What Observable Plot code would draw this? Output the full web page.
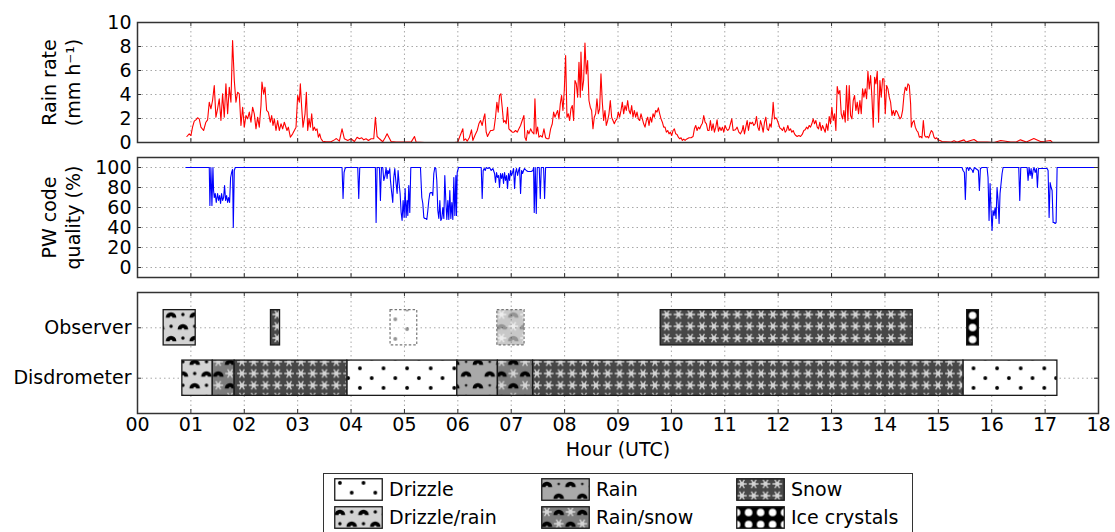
<!DOCTYPE html>
<html><head><meta charset="utf-8">
<script src="https://cdn.jsdelivr.net/npm/d3@7"></script>
<script src="https://cdn.jsdelivr.net/npm/@observablehq/plot@0.6"></script>
<style>
body{margin:0;background:#fff;font-family:"DejaVu Sans",sans-serif;}
#chart{position:relative;width:1115px;height:532px;overflow:hidden;background:#fff;}
#chart svg{display:block}
.legend{position:absolute;left:323px;top:473px;width:590px;height:70px;border:1.5px solid #333;box-sizing:border-box;background:#fff;}
.item{position:absolute;display:flex;align-items:center;font-size:19px;color:#000;line-height:1;}
.item svg{display:block;margin-right:6px}
</style></head><body>
<svg width="0" height="0" style="position:absolute">
<defs>
  <path id="arch" d="M-5.3,2A5.3,5.3 0 0 1 5.3,2L1.4,2A1.4,1.4 0 0 0 -1.4,2Z" fill="#000"/>
  <g id="flake" stroke="#d4d4d4" stroke-width="1.4" fill="#d4d4d4">
    <path d="M-4.8,0H4.8M-2.4,-4.2L2.4,4.2M-2.4,4.2L2.4,-4.2"/>
    <circle r="2.2" stroke="none"/>
  </g>
  <pattern id="p-drizzle" patternUnits="userSpaceOnUse" width="23.6" height="19.6">
    <rect width="23.6" height="19.6" fill="#fff"/>
    <circle cx="5.9" cy="4.9" r="1.9" fill="#000"/>
    <circle cx="17.7" cy="14.7" r="1.9" fill="#000"/>
  </pattern>
  <pattern id="p-drizzlerain" patternUnits="userSpaceOnUse" width="23.6" height="23.6">
    <rect width="23.6" height="23.6" fill="#d3d3d3"/>
    <use href="#arch" x="5.9" y="7"/>
    <use href="#arch" x="17.7" y="18.8"/>
    <circle cx="17.7" cy="6" r="1.7" fill="#000"/>
    <circle cx="5.9" cy="17.8" r="1.7" fill="#000"/>
  </pattern>
  <pattern id="p-rain" patternUnits="userSpaceOnUse" width="23.6" height="23.6">
    <rect width="23.6" height="23.6" fill="#a9a9a9"/>
    <use href="#arch" x="5.9" y="7"/>
    <use href="#arch" x="17.7" y="18.8"/>
    <circle cx="17.7" cy="6" r="1.4" fill="#222"/>
  </pattern>
  <pattern id="p-rainsnow" patternUnits="userSpaceOnUse" width="23.6" height="23.6">
    <rect width="23.6" height="23.6" fill="#7c7c7c"/>
    <use href="#flake" x="5.9" y="5.9"/>
    <use href="#flake" x="17.7" y="17.7"/>
    <use href="#arch" x="17.7" y="7"/>
    <use href="#arch" x="5.9" y="18.8"/>
  </pattern>
  <pattern id="p-snow" patternUnits="userSpaceOnUse" width="11.8" height="11.8">
    <rect width="11.8" height="11.8" fill="#474747"/>
    <use href="#flake" x="5.9" y="5.9"/>
  </pattern>
  <pattern id="p-ice" patternUnits="userSpaceOnUse" x="6.6" y="0.5" width="12" height="12">
    <rect width="12" height="12" fill="#000"/>
    <circle cx="6" cy="6" r="3.8" fill="#fff"/>
  </pattern>
</defs>
</svg>
<div id="chart"></div>
<script>
// ---------- data ----------
const hourTicks = [0,1,2,3,4,5,6,7,8,9,10,11,12,13,14,15,16,17,18];
const rainTicks = [0,2,4,6,8,10];
const pwTicks = [0,20,40,60,80,100];
const rowNames = ["Disdrometer","Observer"];
const precipTypes = ["Drizzle","Drizzle/rain","Rain","Rain/snow","Snow","Ice crystals"];
const patternIds = ["drizzle","drizzlerain","rain","rainsnow","snow","ice"];

const observerType = ["Drizzle/rain","Snow","Drizzle","Rain/snow","Snow","Ice crystals"];
const observerStart = [0.49, 2.50, 4.74, 6.74, 9.80, 15.54];
const observerEnd = [1.09, 2.67, 5.24, 7.25, 14.52, 15.76];
const observerUncertain = [false, false, true, true, false, false];

const disdroType = ["Drizzle/rain","Rain/snow","Snow","Drizzle","Rain","Rain/snow","Snow","Drizzle"];
const disdroStart = [0.84, 1.41, 1.82, 3.93, 5.99, 6.75, 7.41, 15.47];
const disdroEnd = [1.41, 1.82, 3.93, 5.99, 6.75, 7.41, 15.47, 17.23];

// [hour, rain rate mm/h]
const rainRate = [
[0.925,0.5],[0.969,0.72],[1.0,0.58],[1.031,1.28],[1.063,1.78],[1.094,1.89],[1.125,2.06],[1.156,1.97],[1.188,1.28],[1.238,1.0],[1.281,1.69],[1.313,1.89],[1.344,3.36],[1.375,2.81],[1.406,3.5],[1.438,4.75],[1.469,2.11],[1.5,2.81],[1.531,3.64],[1.563,1.83],[1.594,4.06],[1.625,2.11],[1.656,4.89],[1.688,2.39],[1.719,4.61],[1.75,3.36],[1.781,8.5],[1.813,5.17],[1.844,3.36],[1.875,4.19],[1.906,4.06],[1.938,1.42],[1.969,2.94],[2.0,1.28],[2.031,2.25],[2.063,1.97],[2.094,2.53],[2.125,1.69],[2.156,2.94],[2.188,2.39],[2.219,1.14],[2.25,2.11],[2.281,1.28],[2.313,3.08],[2.331,5.03],[2.363,4.06],[2.388,4.61],[2.419,2.67],[2.45,2.53],[2.488,1.69],[2.513,2.25],[2.538,1.42],[2.563,1.97],[2.594,1.0],[2.625,1.83],[2.656,1.0],[2.688,1.56],[2.719,1.14],[2.75,1.69],[2.8,1.0],[2.825,1.28],[2.863,0.44],[2.906,0.72],[2.938,1.0],[2.969,1.28],[3.0,3.92],[3.031,3.36],[3.05,4.89],[3.075,2.94],[3.1,1.28],[3.138,2.39],[3.163,4.19],[3.188,1.0],[3.213,1.97],[3.238,1.28],[3.263,2.39],[3.288,1.0],[3.313,1.28],[3.338,1.0],[3.363,1.14],[3.388,0.44],[3.413,0.72],[3.438,0.31],[3.469,0.11],[3.531,0.06],[3.625,0.06],[3.688,0.22],[3.725,0.33],[3.781,0.11],[3.831,1.14],[3.875,0.31],[3.938,0.17],[4.0,0.31],[4.063,0.08],[4.113,0.44],[4.156,0.31],[4.2,0.39],[4.238,0.22],[4.281,0.31],[4.325,0.17],[4.375,0.31],[4.425,0.31],[4.456,2.11],[4.488,0.5],[4.531,0.31],[4.594,0.06],[4.638,0.39],[4.675,0.72],[4.713,0.39],[4.75,0.08],[4.844,0.03],[4.969,0.03],[5.125,0.03],[5.188,0.5],[5.219,0.03],[5.375,0],[5.563,0],[5.75,0],[5.938,0],
[6.0,0.03],[6.031,0.44],[6.094,1.14],[6.113,0.17],[6.144,0.31],[6.175,0.11],[6.219,0.44],[6.256,1.06],[6.281,0.17],[6.319,0.58],[6.363,1.0],[6.394,1.56],[6.425,1.83],[6.456,1.42],[6.488,2.11],[6.506,2.39],[6.531,0.86],[6.556,0.5],[6.581,0.72],[6.613,1.0],[6.644,1.0],[6.675,1.06],[6.706,2.11],[6.731,3.36],[6.756,2.53],[6.781,3.92],[6.806,4.06],[6.831,2.94],[6.856,1.69],[6.881,1.83],[6.906,1.56],[6.931,2.94],[6.956,1.14],[6.988,1.0],[7.019,0.86],[7.05,0.86],[7.081,1.0],[7.113,0.86],[7.144,1.14],[7.175,1.42],[7.206,1.83],[7.238,2.25],[7.256,0.44],[7.281,0.17],[7.306,1.0],[7.331,0.72],[7.363,1.14],[7.394,0.86],[7.425,0.72],[7.444,3.64],[7.469,0.72],[7.494,1.28],[7.519,0.44],[7.55,0.58],[7.581,0.44],[7.613,1.14],[7.644,0.39],[7.675,0.31],[7.706,0.31],[7.738,1.14],[7.769,1.56],[7.794,2.53],[7.819,2.11],[7.844,2.39],[7.869,2.67],[7.894,1.97],[7.919,3.22],[7.944,3.92],[7.969,2.67],[7.994,4.33],[8.019,7.25],[8.044,2.11],[8.069,2.39],[8.094,1.83],[8.119,2.81],[8.144,3.08],[8.169,1.83],[8.194,5.17],[8.219,4.89],[8.244,3.78],[8.269,6.69],[8.294,3.78],[8.306,7.53],[8.331,4.33],[8.356,5.17],[8.381,8.28],[8.406,5.72],[8.431,6.83],[8.456,3.5],[8.481,2.94],[8.506,2.67],[8.531,1.14],[8.556,2.11],[8.581,2.39],[8.606,3.64],[8.631,2.39],[8.656,2.81],[8.681,5.72],[8.706,3.36],[8.731,1.83],[8.756,2.67],[8.781,1.42],[8.806,1.83],[8.831,2.39],[8.856,3.5],[8.881,2.11],[8.906,1.83],[8.931,1.56],[8.956,1.83],[8.981,1.97],[9.006,2.53],[9.031,2.11],[9.056,2.67],[9.081,3.36],[9.106,2.39],[9.131,3.08],[9.156,2.67],[9.181,3.5],[9.206,2.67],[9.231,2.39],[9.256,3.08],[9.281,2.11],[9.306,2.67],[9.331,2.11],[9.356,2.53],[9.381,1.97],[9.406,1.83],[9.431,2.39],[9.456,1.97],[9.481,1.56],[9.506,1.28],[9.531,1.83],[9.556,2.11],[9.581,1.42],[9.606,2.11],[9.631,1.69],[9.656,2.39],[9.681,2.11],[9.706,2.67],[9.731,2.53],[9.756,2.89],[9.781,2.39],[9.806,1.97],[9.831,1.69],[9.856,1.28],[9.881,1.28],[9.906,0.86],[9.931,1.0],[9.956,0.72],[9.981,0.86],[10.006,0.58],[10.031,1.0],[10.056,1.14],[10.081,0.72],[10.106,0.67],[10.131,0.44],[10.156,0.31],[10.181,0.39],[10.206,0.17],[10.231,0.28],[10.256,0.17],[10.281,0.28],[10.331,0.39],[10.369,0.39],[10.406,0.5],[10.431,1.14],[10.456,1.42],[10.481,1.0],[10.506,1.28],[10.531,1.14],[10.556,1.42],[10.581,1.61],[10.606,2.25],[10.631,1.69],[10.656,1.56],[10.681,1.0],[10.706,1.0],[10.731,1.83],[10.756,1.0],[10.781,1.56],[10.806,0.86],[10.831,1.28],[10.856,1.89],[10.881,0.94],[10.906,1.28],[10.931,1.0],[10.956,1.28],[10.981,0.86],[11.006,1.42],[11.031,1.14],[11.056,1.0],[11.081,1.14],[11.106,1.56],[11.131,1.97],[11.156,1.0],
[11.2,1.06],[11.231,1.28],[11.263,0.86],[11.294,0.72],[11.325,1.0],[11.344,1.42],[11.369,0.72],[11.394,1.28],[11.419,1.83],[11.444,1.0],[11.469,1.69],[11.494,1.56],[11.519,1.69],[11.544,1.42],[11.569,1.56],[11.594,2.17],[11.619,1.28],[11.644,1.0],[11.669,1.83],[11.694,1.42],[11.719,0.86],[11.744,1.69],[11.769,2.11],[11.794,1.14],[11.819,1.0],[11.844,1.56],[11.869,1.28],[11.894,2.44],[11.906,3.36],[11.931,1.97],[11.956,2.06],[11.981,1.89],[12.006,1.56],[12.031,1.22],[12.056,1.14],[12.081,1.0],[12.106,1.28],[12.131,0.86],[12.156,1.0],[12.181,1.42],[12.206,1.0],[12.231,1.14],[12.256,0.86],[12.281,1.0],[12.306,0.72],[12.331,0.58],[12.356,0.5],[12.388,0.58],[12.419,0.5],[12.45,0.67],[12.481,1.0],[12.506,1.06],[12.531,1.28],[12.556,1.14],[12.581,1.42],[12.606,1.28],[12.631,1.56],[12.656,1.97],[12.681,1.56],[12.706,1.83],[12.731,1.28],[12.756,1.14],[12.781,1.69],[12.806,1.0],[12.831,1.42],[12.856,1.14],[12.881,0.86],[12.906,1.56],[12.931,1.0],[12.956,2.17],[12.981,1.56],[13.006,2.94],[13.031,1.83],[13.056,2.39],[13.081,1.0],[13.106,4.67],[13.131,4.06],[13.156,4.33],[13.181,2.39],[13.206,1.97],[13.231,2.67],[13.256,1.69],[13.281,4.75],[13.306,1.83],[13.331,4.75],[13.356,2.25],[13.381,1.97],[13.406,3.5],[13.431,3.92],[13.456,2.67],[13.481,3.36],[13.506,2.39],[13.531,3.5],[13.556,2.39],[13.581,4.47],[13.606,3.78],[13.631,4.47],[13.656,3.64],[13.681,5.94],[13.706,4.47],[13.731,5.58],[13.756,3.78],[13.781,1.28],[13.806,5.44],[13.831,4.89],[13.856,5.94],[13.881,1.69],[13.906,5.17],[13.931,3.78],[13.956,5.31],[13.981,5.31],[14.006,2.39],[14.031,4.75],[14.056,4.47],[14.081,3.78],[14.106,3.36],[14.131,2.25],[14.156,2.67],[14.181,2.25],[14.206,2.67],[14.231,2.53],[14.256,2.25],[14.281,1.97],[14.306,2.11],[14.331,2.67],[14.356,3.92],[14.381,4.61],[14.406,4.33],[14.431,4.89],[14.456,4.75],[14.481,3.22],[14.494,1.28],[14.519,1.69],[14.544,1.83],[14.569,1.28],[14.594,1.0],[14.619,0.86],[14.644,0.44],[14.669,0.5],[14.694,0.39],[14.719,1.83],[14.744,0.58],[14.769,0.44],[14.794,0.5],[14.819,0.39],[14.844,0.72],[14.869,1.0],[14.894,0.86],[14.919,0.44],[14.944,0.31],[14.969,0.39],[14.994,0.22],[15.031,0.17],[15.069,0.08],[15.138,0.06],[15.231,0.03],[15.294,0.14],[15.356,0.03],[15.481,0.22],[15.519,0.03],[15.606,0.17],[15.669,0.25],[15.731,0.06],[15.825,0.03],[15.919,0.03],[16.044,0],[16.169,0.17],[16.263,0.11],[16.356,0.03],[16.45,0.03],[16.538,0.22],[16.65,0.05],[16.788,0.33],[16.913,0.08],[17.0,0.1],[17.1,0.17],[17.131,0.03]
];

// [hour, PW code quality %]
const pwQuality = [
[0.906,100],[1.344,100],[1.356,62],[1.375,100],[1.394,62],[1.413,100],[1.425,77],[1.438,70],[1.456,74],[1.475,65],[1.5,74],[1.519,67],[1.538,72],[1.556,64],[1.575,74],[1.594,67],[1.613,70],[1.631,82],[1.65,67],[1.669,72],[1.688,65],[1.706,70],[1.725,65],[1.744,90],[1.763,95],[1.781,98],[1.794,40],[1.813,97],[1.831,100],
[3.831,100],[3.85,69],[3.869,95],[3.888,99],[3.906,100],[4.125,100],[4.144,69],[4.163,100],[4.456,100],[4.469,45],[4.488,100],[4.531,100],[4.55,67],[4.569,100],[4.594,100],[4.613,87],[4.638,92],[4.656,100],[4.675,89],[4.688,97],[4.706,94],[4.725,99],[4.738,87],[4.763,74],[4.781,65],[4.8,90],[4.819,99],[4.838,87],[4.863,74],[4.881,97],[4.9,84],[4.919,74],[4.938,55],[4.956,47],[4.975,67],[4.994,50],[5.013,79],[5.031,50],[5.05,67],[5.063,52],[5.081,82],[5.1,55],[5.119,100],[5.3,100],[5.325,70],[5.344,64],[5.363,50],[5.381,49],[5.4,49],[5.419,48],[5.438,57],[5.456,67],[5.475,74],[5.494,75],[5.513,75],[5.531,72],[5.55,94],[5.569,100],[5.588,99],[5.606,87],[5.625,57],[5.644,49],[5.663,67],[5.681,47],[5.7,49],[5.719,60],[5.738,49],[5.756,92],[5.775,67],[5.794,48],[5.813,67],[5.831,48],[5.85,77],[5.869,49],[5.888,65],[5.906,48],[5.925,90],[5.944,52],[5.963,92],[5.975,52],[5.988,95],[6.013,100],
[6.438,100],[6.456,69],[6.475,97],[6.494,99],[6.513,97],[6.531,100],[6.563,99],[6.594,100],[6.625,97],[6.656,99],[6.688,94],[6.706,85],[6.725,95],[6.744,90],[6.763,92],[6.781,80],[6.8,94],[6.819,89],[6.838,94],[6.856,84],[6.875,95],[6.894,87],[6.913,92],[6.931,79],[6.95,94],[6.969,87],[6.988,97],[7.006,92],[7.025,95],[7.044,99],[7.063,79],[7.081,95],[7.1,99],[7.119,92],[7.138,97],[7.156,100],[7.175,74],[7.194,97],[7.213,94],[7.231,97],[7.25,99],[7.281,97],[7.313,96],[7.375,96],[7.406,97],[7.419,100],[7.431,55],[7.45,100],[7.469,54],[7.488,100],[7.525,100],[7.544,69],[7.563,100],[7.606,100],[7.625,69],[7.644,100],
[15.444,100],[15.463,97],[15.488,95],[15.506,68],[15.525,99],[15.55,100],[15.569,97],[15.588,100],[15.638,97],[15.65,95],[15.675,100],[15.75,97],[15.769,77],[15.788,99],[15.819,100],[15.913,100],[15.931,90],[15.95,47],[15.969,84],[15.988,57],[16.006,37],[16.025,57],[16.044,52],[16.063,60],[16.081,49],[16.1,80],[16.119,67],[16.138,44],[16.156,74],[16.175,84],[16.194,94],[16.213,100],[16.506,100],[16.525,67],[16.544,100],[16.663,100],[16.681,87],[16.7,100],[16.719,92],[16.738,99],[16.756,89],[16.775,97],[16.794,100],[16.813,95],[16.838,99],[16.856,80],[16.875,99],[17.038,99],[17.056,97],[17.075,50],[17.094,85],[17.113,80],[17.131,77],[17.15,45],[17.169,45],[17.188,44],[17.206,45],[17.225,100],[18.0,100]
];

// ---------- layout ----------
const W = 1115, ML = 137, MR = 17;
const FONT = "DejaVu Sans";
const gridStyle = {stroke: "#a8a8a8", strokeOpacity: 1, strokeWidth: 1, strokeDasharray: "1.5,3"};

function panel({height, marginTop, marginBottom, yDomain, yTicks, yFormat, ylabel, marks, xAxis}) {
  const frameH = height - marginTop - marginBottom;
  const frameW = W - ML - MR;
  const m = [
    Plot.gridX(hourTicks, gridStyle),
    Plot.gridY(yTicks, gridStyle),
    ...marks,
    Plot.tickX(hourTicks, {x: d => d, insetTop: frameH - 4, stroke: "#333"}),
    Plot.tickX(hourTicks, {x: d => d, insetBottom: frameH - 4, stroke: "#333"}),
    Plot.tickY(yTicks, {y: d => d, insetRight: frameW - 4, stroke: "#333"}),
    Plot.tickY(yTicks, {y: d => d, insetLeft: frameW - 4, stroke: "#333"}),
    Plot.frame({stroke: "#333", strokeWidth: 1.5}),
    Plot.axisY(yTicks, {tickSize: 0, tickPadding: 6, tickFormat: yFormat, label: null, fontSize: 19})
  ];
  if (ylabel) {
    m.push(Plot.text([ylabel], {frameAnchor: "left", dx: -77.5, rotate: -90, text: d => d,
      textAnchor: "middle", lineAnchor: "middle", lineHeight: 1.3, fontSize: 19, fill: "#000"}));
  }
  if (xAxis) {
    m.push(Plot.axisX(hourTicks, {tickSize: 0, tickPadding: 4, fontSize: 19, label: null,
      tickFormat: d => String(d).padStart(2, "0")}));
    m.push(Plot.text([xAxis], {frameAnchor: "bottom", dy: 36, text: d => d, textAnchor: "middle", lineAnchor: "middle", fontSize: 19, fill: "#000"}));
  }
  return Plot.plot({
    width: W, height, marginTop, marginBottom, marginLeft: ML, marginRight: MR,
    style: {fontFamily: FONT, fontSize: "19px", background: "transparent", color: "#000", overflow: "visible"},
    x: xAxis ? {domain: [0, 18]} : {domain: [0, 18], axis: null},
    y: {domain: yDomain},
    marks: m
  });
}

const chart = document.getElementById("chart");

chart.appendChild(panel({
  height: 150, marginTop: 22, marginBottom: 8, yDomain: [0, 10], yTicks: rainTicks,
  yFormat: d => String(d), ylabel: "Rain rate\n(mm h\u207B\u00B9)",
  marks: [Plot.line(rainRate, {x: d => d[0], y: d => d[1], stroke: "#ff0000", strokeWidth: 1.1})]
}));

chart.appendChild(panel({
  height: 135, marginTop: 7, marginBottom: 8, yDomain: [-10, 110], yTicks: pwTicks,
  yFormat: d => String(d), ylabel: "PW code\nquality (%)",
  marks: [Plot.line(pwQuality, {x: d => d[0], y: d => d[1], stroke: "#0000ff", strokeWidth: 1.1})]
}));

// precipitation bars
const bars = [];
observerType.forEach((t, i) => bars.push({type: t, row: 2, start: observerStart[i], end: observerEnd[i], uncertain: observerUncertain[i]}));
disdroType.forEach((t, i) => bars.push({type: t, row: 1, start: disdroStart[i], end: disdroEnd[i], uncertain: false}));
const half = 0.35;
const barMarks = [];
precipTypes.forEach((t, k) => {
  const sure = bars.filter(b => b.type === t && !b.uncertain);
  const unsure = bars.filter(b => b.type === t && b.uncertain);
  const fill = `url(#p-${patternIds[k]})`;
  if (sure.length) barMarks.push(Plot.rect(sure, {x1: "start", x2: "end", y1: d => d.row - half, y2: d => d.row + half,
    fill, stroke: "#1a1a1a", strokeWidth: 1.3}));
  if (unsure.length) barMarks.push(Plot.rect(unsure, {x1: "start", x2: "end", y1: d => d.row - half, y2: d => d.row + half,
    fill, fillOpacity: 0.42, stroke: "#777", strokeWidth: 1.2, strokeDasharray: "2.5,2"}));
});

chart.appendChild(panel({
  height: 180, marginTop: 7, marginBottom: 52, yDomain: [0.3, 2.7], yTicks: [1, 2],
  yFormat: d => rowNames[d - 1], ylabel: null, xAxis: "Hour (UTC)",
  marks: barMarks
}));

// legend
const legend = document.createElement("div");
legend.className = "legend";
const colX = [10, 217, 412], rowY = [4, 32];
precipTypes.forEach((t, i) => {
  const item = document.createElement("div");
  item.className = "item";
  item.style.left = colX[Math.floor(i / 2)] + "px";
  item.style.top = rowY[i % 2] + "px";
  item.innerHTML = `<svg width="49" height="23"><rect x="0.75" y="0.75" width="47.5" height="21.5" fill="url(#p-${patternIds[i]})" stroke="#1a1a1a" stroke-width="1.3"/></svg><span>${t}</span>`;
  legend.appendChild(item);
});
chart.appendChild(legend);
</script>
</body></html>
